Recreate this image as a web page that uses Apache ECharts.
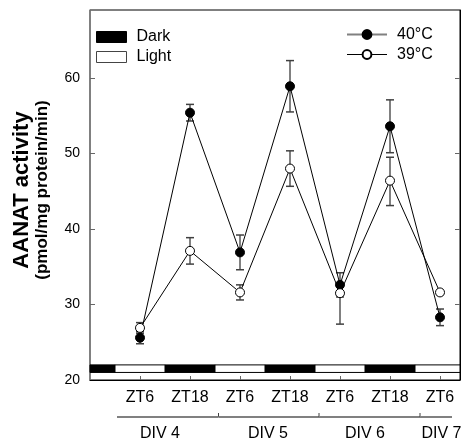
<!DOCTYPE html>
<html><head><meta charset="utf-8">
<script src="https://cdn.jsdelivr.net/npm/echarts@6/dist/echarts.min.js"></script>
<style>html,body{margin:0;padding:0;background:#fff}#c{width:476px;height:446px}</style>
</head><body><div id="c"></div>
<script>
const tickLabels = ['ZT6','ZT18','ZT6','ZT18','ZT6','ZT18','ZT6'];
const xPos = [0,1,2,3,4,5,6];
const mean40 = [25.6,55.4,36.9,58.9,32.6,53.6,28.3];
const errUp40 = [0.8,1.1,2.3,3.4,1.6,3.5,1.1];
const errDown40 = [0.8,1.1,2.3,3.4,1.6,3.5,1.1];
const mean39 = [26.9,37.1,31.6,48.0,31.5,46.4,31.6];
const errUp39 = [0.7,1.75,1.0,2.35,0,3.1,0.3];
const errDown39 = [0.7,1.75,1.0,2.35,4.1,3.3,0.3];
const darkPeriods = [[-1,-0.5],[0.5,1.5],[2.5,3.5],[4.5,5.5]];
const lightPeriods = [[-0.5,0.5],[1.5,2.5],[3.5,4.5],[5.5,6.4]];
const bandRange = [21,22];
const divGroups = ['DIV 4','DIV 5','DIV 6','DIV 7'];
const divStart = [-0.46,1.57,3.58,5.6];
const divEnd = [1.57,3.58,5.6,6.24];
const divLabelAt = [0.4,2.56,4.5,6.03];
const yLabelValues = [20,30,40,50,60];
const yTickValues = [30,40,50,60];

const FONT = 'Liberation Sans, Arial, Helvetica, sans-serif';
const chart = echarts.init(document.getElementById('c'), null, {renderer:'canvas'});

function bandItem(fill){
  return function(params, api){
    const p1 = api.coord([api.value(0), api.value(3)]);
    const p2 = api.coord([api.value(1), api.value(2)]);
    return {type:'rect', shape:{x:p1[0], y:p1[1], width:p2[0]-p1[0], height:p2[1]-p1[1]},
      style:{fill:fill, stroke:'#000', lineWidth:1}};
  };
}

function errItem(params, api){
  const x = api.value(0), m = api.value(1), up = api.value(2), dn = api.value(3);
  const c = api.coord([x, m]);
  const ch = [];
  const half = 4;
  if (up > 0) {
    const t = api.coord([x, m + up]);
    ch.push({type:'line', shape:{x1:c[0], y1:c[1], x2:t[0], y2:t[1]}, style:{stroke:'#808080', lineWidth:2}});
    ch.push({type:'line', shape:{x1:t[0]-half, y1:t[1], x2:t[0]+half, y2:t[1]}, style:{stroke:'#404040', lineWidth:1.5}});
  }
  if (dn > 0) {
    const b = api.coord([x, m - dn]);
    ch.push({type:'line', shape:{x1:c[0], y1:c[1], x2:b[0], y2:b[1]}, style:{stroke:'#808080', lineWidth:2}});
    ch.push({type:'line', shape:{x1:b[0]-half, y1:b[1], x2:b[0]+half, y2:b[1]}, style:{stroke:'#404040', lineWidth:1.5}});
  }
  return {type:'group', children:ch};
}

function divItem(params, api){
  const s = api.coord([api.value(0), 20]);
  const e = api.coord([api.value(1), 20]);
  const l = api.coord([api.value(2), 20]);
  const idx = api.value(3);
  const ly = s[1] + 37;
  const ch = [
    {type:'line', shape:{x1:s[0], y1:ly, x2:e[0], y2:ly}, style:{stroke:'#808080', lineWidth:2}},
    {type:'text', style:{text:divGroups[idx], x:l[0], y:s[1]+54, align:'center', verticalAlign:'middle',
      fill:'#000', font:'16px ' + FONT}}
  ];
  if (idx < divGroups.length - 1) {
    ch.push({type:'line', shape:{x1:e[0], y1:ly, x2:e[0], y2:ly-4}, style:{stroke:'#404040', lineWidth:1}});
  }
  return {type:'group', children:ch};
}

const option = {
  animation:false,
  backgroundColor:'#fff',
  textStyle:{fontFamily:FONT},
  grid:{left:90, top:10, width:370, height:370, show:true, borderColor:'#000', borderWidth:1, backgroundColor:'transparent'},
  legend:[
    {data:[{name:'Dark', itemStyle:{color:'#000', borderColor:'#000', borderWidth:1}},
           {name:'Light', itemStyle:{color:'#fff', borderColor:'#444', borderWidth:1}}],
     icon:'rect', orient:'vertical', left:96, top:29, itemWidth:30, itemHeight:11, itemGap:4, padding:0,
     selectedMode:false, textStyle:{fontSize:16, color:'#000', fontFamily:FONT, padding:[0,0,0,5]}},
    {data:[{name:'40°C', lineStyle:{color:'#808080', width:2}}, {name:'39°C', lineStyle:{color:'#000', width:1}}],
     orient:'vertical', left:346, top:26.5, itemWidth:40, itemHeight:11, itemGap:4, padding:0,
     selectedMode:false, textStyle:{fontSize:16, color:'#000', fontFamily:FONT, padding:[0,0,0,5]}}
  ],
  xAxis:{type:'value', min:-1, max:6.4, splitLine:{show:false},
    axisLine:{show:true, onZero:false, lineStyle:{color:'#000', width:1}},
    axisTick:{show:true, inside:true, length:4, customValues:xPos, lineStyle:{color:'#666'}},
    axisLabel:{show:true, customValues:xPos, margin:10, fontSize:16, color:'#000', fontFamily:FONT,
      formatter:function(v){ return tickLabels[xPos.indexOf(Math.round(v))]; }}},
  yAxis:[
    {type:'value', min:20, max:69, position:'left', splitLine:{show:false},
     axisLine:{show:true, onZero:false, lineStyle:{color:'#808080', width:1.5}},
     axisTick:{show:true, inside:true, length:5, customValues:yTickValues, lineStyle:{color:'#666'}},
     axisLabel:{customValues:yLabelValues, margin:10, fontSize:14, color:'#000', fontFamily:FONT},
     name:'{a|AANAT activity}\n{b|(pmol/mg protein/min)}', nameLocation:'middle', nameGap:40, nameRotate:90,
     nameTextStyle:{padding:[0,0,0,10], rich:{
       a:{fontSize:22, fontWeight:'bold', lineHeight:24, fontFamily:FONT, color:'#000'},
       b:{fontSize:17, fontWeight:'bold', lineHeight:16, fontFamily:FONT, color:'#000'}}}},
    {type:'value', min:20, max:69, position:'right', splitLine:{show:false},
     axisLine:{show:true, onZero:false, lineStyle:{color:'#000', width:1}},
     axisTick:{show:true, inside:true, length:5, customValues:yTickValues, lineStyle:{color:'#666'}},
     axisLabel:{show:false}}
  ],
  series:[
    {name:'Dark', type:'custom', z:1, renderItem:bandItem('#000'), itemStyle:{color:'#000'},
     encode:{x:[0,1], y:[2,3]}, data:darkPeriods.map(p=>[p[0],p[1],bandRange[0],bandRange[1]])},
    {name:'Light', type:'custom', z:1, renderItem:bandItem('#fff'), itemStyle:{color:'#fff'},
     encode:{x:[0,1], y:[2,3]}, data:lightPeriods.map(p=>[p[0],p[1],bandRange[0],bandRange[1]])},
    {name:'err', type:'custom', z:1, renderItem:errItem, encode:{x:0, y:1},
     data:xPos.map((x,i)=>[x, mean40[i], errUp40[i], errDown40[i]]).concat(
          xPos.map((x,i)=>[x, mean39[i], errUp39[i], errDown39[i]]))},
    {name:'div', type:'custom', z:1, renderItem:divItem, encode:{x:[0,1,2]}, clip:false,
     data:divGroups.map((g,i)=>[divStart[i], divEnd[i], divLabelAt[i], i])},
    {name:'40°C', type:'line', z:3, data:xPos.map((x,i)=>[x, mean40[i]]), symbol:'circle', symbolSize:9,
     itemStyle:{color:'#000', borderColor:'#000', borderWidth:1}, lineStyle:{color:'#000', width:1}},
    {name:'39°C', type:'line', z:3, data:xPos.map((x,i)=>[x, mean39[i]]), symbol:'circle', symbolSize:9,
     itemStyle:{color:'#fff', borderColor:'#000', borderWidth:1}, lineStyle:{color:'#000', width:1}}
  ]
};
chart.setOption(option);
</script></body></html>
